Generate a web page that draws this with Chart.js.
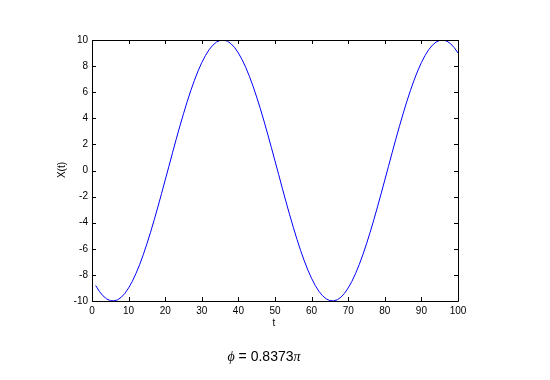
<!DOCTYPE html>
<html>
<head>
<meta charset="utf-8">
<script src="https://cdn.jsdelivr.net/npm/chart.js@4/dist/chart.umd.min.js"></script>
<style>
  html, body { margin: 0; padding: 0; background: #ffffff; }
  #wrap { position: relative; width: 550px; height: 380px; }
</style>
</head>
<body>
<div id="wrap"><canvas id="c" width="550" height="380"></canvas></div>
<script>
// ─── data (t = 1..100) ───
const tValues = Array.from({ length: 100 }, (_, i) => i + 1);
const xValues = [
  -8.81, -9.26, -9.60, -9.84, -9.97, -9.99, -9.91, -9.71, -9.41, -9.00,
  -8.50, -7.90, -7.22, -6.46, -5.62, -4.73, -3.78, -2.79, -1.77, -0.73,
   0.31,  1.36,  2.39,  3.39,  4.35,  5.27,  6.13,  6.92,  7.64,  8.27,
   8.81,  9.26,  9.60,  9.84,  9.97,  9.99,  9.91,  9.71,  9.41,  9.00,
   8.50,  7.90,  7.22,  6.46,  5.62,  4.73,  3.78,  2.79,  1.77,  0.73,
  -0.31, -1.36, -2.39, -3.39, -4.35, -5.27, -6.13, -6.92, -7.64, -8.27,
  -8.81, -9.26, -9.60, -9.84, -9.97, -9.99, -9.91, -9.71, -9.41, -9.00,
  -8.50, -7.90, -7.22, -6.46, -5.62, -4.73, -3.78, -2.79, -1.77, -0.73,
   0.31,  1.36,  2.39,  3.39,  4.35,  5.27,  6.13,  6.92,  7.64,  8.27,
   8.81,  9.26,  9.60,  9.84,  9.97,  9.99,  9.91,  9.71,  9.41,  9.00
];
const xTicks = [0, 10, 20, 30, 40, 50, 60, 70, 80, 90, 100];
const yTicks = [-10, -8, -6, -4, -2, 0, 2, 4, 6, 8, 10];

const FONT = 'Arial, "Liberation Sans", sans-serif';

// plot box: left 92, right 458, top 40, bottom 301
const matlabFrame = {
  id: 'matlabFrame',
  afterDraw(chart) {
    const { ctx, chartArea: a, scales } = chart;
    ctx.save();
    ctx.strokeStyle = '#000000';
    ctx.lineWidth = 1;
    ctx.beginPath();
    ctx.rect(Math.round(a.left) + 0.5, Math.round(a.top) + 0.5,
             Math.round(a.right - a.left), Math.round(a.bottom - a.top));
    ctx.stroke();
    // inward tick marks on all four sides
    ctx.beginPath();
    for (const v of xTicks) {
      const x = Math.round(scales.x.getPixelForValue(v)) + 0.5;
      ctx.moveTo(x, a.bottom); ctx.lineTo(x, a.bottom - 4);
      ctx.moveTo(x, a.top); ctx.lineTo(x, a.top + 4);
    }
    for (const v of yTicks) {
      const y = Math.round(scales.y.getPixelForValue(v)) + 0.5;
      ctx.moveTo(a.left, y); ctx.lineTo(a.left + 4, y);
      ctx.moveTo(a.right, y); ctx.lineTo(a.right - 4, y);
    }
    ctx.stroke();

    // axis titles
    ctx.fillStyle = '#000000';
    ctx.font = '10px ' + FONT;
    ctx.textAlign = 'center';
    ctx.textBaseline = 'middle';
    ctx.fillText('t', 274, 323);
    ctx.save();
    ctx.translate(62, 170);
    ctx.rotate(-Math.PI / 2);
    ctx.fillText('X(t)', 0, 0);
    ctx.restore();

    // caption: ϕ = 0.8373π
    ctx.textAlign = 'left';
    ctx.textBaseline = 'alphabetic';
    const parts = [
      { s: 'ϕ', f: 'italic 14px "Times New Roman", "Liberation Serif", serif' },
      { s: ' = 0.8373', f: '14px ' + FONT },
      { s: 'π', f: 'italic 14px "Times New Roman", "Liberation Serif", serif' }
    ];
    let w = 0;
    for (const p of parts) { ctx.font = p.f; w += ctx.measureText(p.s).width; }
    let x = 264 - w / 2;
    for (const p of parts) {
      ctx.font = p.f;
      ctx.fillText(p.s, x, 361);
      x += ctx.measureText(p.s).width;
    }
    ctx.restore();
  }
};

new Chart(document.getElementById('c'), {
  type: 'line',
  data: {
    labels: tValues,
    datasets: [{
      data: tValues.map((t, i) => ({ x: t, y: xValues[i] })),
      borderColor: '#0000ff',
      borderWidth: 1,
      pointRadius: 0,
      tension: 0,
      fill: false
    }]
  },
  options: {
    responsive: false,
    animation: false,
    devicePixelRatio: 1,
    layout: { padding: { left: 0, top: 40, right: 92, bottom: 0 } },
    plugins: { legend: { display: false }, tooltip: { enabled: false } },
    scales: {
      x: {
        type: 'linear', min: 0, max: 100,
        afterFit(scale) { scale.height = 79; },
        afterBuildTicks(scale) { scale.ticks = xTicks.map(v => ({ value: v })); },
        grid: { display: false, drawTicks: false },
        border: { display: false },
        ticks: { color: '#000000', padding: 4, maxRotation: 0, autoSkip: false, font: { family: FONT, size: 10 } }
      },
      y: {
        type: 'linear', min: -10, max: 10,
        afterFit(scale) { scale.width = 92; },
        afterBuildTicks(scale) { scale.ticks = yTicks.map(v => ({ value: v })); },
        grid: { display: false, drawTicks: false },
        border: { display: false },
        ticks: { color: '#000000', padding: 4, autoSkip: false, font: { family: FONT, size: 10 } }
      }
    }
  },
  plugins: [matlabFrame]
});
</script>
</body>
</html>
